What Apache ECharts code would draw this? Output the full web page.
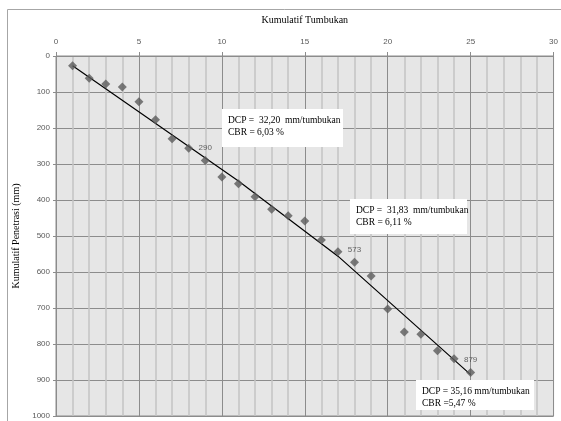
<!DOCTYPE html>
<html>
<head>
<meta charset="utf-8">
<script src="https://cdn.jsdelivr.net/npm/echarts@6/dist/echarts.min.js"></script>
<style>
  html, body { margin: 0; padding: 0; background: #ffffff; }
  #chart { width: 561px; height: 421px; }
</style>
</head>
<body>
<div id="chart"></div>
<script>
// DCP test: cumulative penetration against cumulative blows
const blows = [1, 2, 3, 4, 5, 6, 7, 8, 9, 10, 11, 12, 13, 14, 15, 16, 17, 18, 19, 20, 21, 22, 23, 24, 25];
const penetration = [27, 62, 78, 86, 127, 177, 230, 256, 290, 336, 355, 391, 426, 444, 458, 511, 544, 573, 611, 703, 767, 773, 819, 841, 879];
// blows whose penetration is written next to the marker
const labelledBlows = [9, 18, 25];
// fitted DCP line (three segments)
const trendBlows = [1, 11, 17, 25];
const trendPenetration = [27, 347, 556, 885];
// result boxes
const dcpText = ['DCP =  32,20  mm/tumbukan', 'DCP =  31,83  mm/tumbukan', 'DCP = 35,16 mm/tumbukan'];
const cbrText = ['CBR = 6,03 %', 'CBR = 6,11 %', 'CBR =5,47 %'];
const boxPos = [[222, 109, 121, 38], [350, 199, 117, 35], [416, 380, 118, 30]];

const serif = '"Liberation Serif", "Times New Roman", serif';
const sans = '"Liberation Sans", Arial, sans-serif';

const chart = echarts.init(document.getElementById('chart'), null, { renderer: 'canvas' });

const scatterData = blows.map((b, i) => {
  const item = { value: [b, penetration[i]] };
  if (labelledBlows.indexOf(b) >= 0) {
    item.label = { show: true };
  }
  return item;
});

const boxes = [];
dcpText.forEach((t, i) => {
  const p = boxPos[i];
  boxes.push({
    type: 'rect', z: 100, silent: true,
    shape: { x: p[0], y: p[1], width: p[2], height: p[3] },
    style: { fill: '#ffffff' }
  });
  boxes.push({
    type: 'text', z: 101, silent: true,
    x: p[0] + 6, y: p[1] + 5,
    style: { text: t + '\n' + cbrText[i], font: '9.5px ' + serif, fill: '#000000', lineHeight: 12 }
  });
});

chart.setOption({
  animation: false,
  backgroundColor: '#ffffff',
  grid: {
    left: 56, right: 5, top: 56, bottom: 5,
    show: true, backgroundColor: '#e6e6e6', borderColor: '#8c8c8c', borderWidth: 1
  },
  graphic: [
    {
      type: 'rect', z: -10, silent: true,
      shape: { x: 7.5, y: 9.5, width: 700, height: 600 },
      style: { fill: 'none', stroke: '#a6a6a6', lineWidth: 1 }
    }
  ].concat(boxes),
  xAxis: {
    type: 'value',
    position: 'top',
    min: 0, max: 30, interval: 5,
    name: 'Kumulatif Tumbukan',
    nameLocation: 'middle',
    nameGap: 31,
    nameTextStyle: { fontFamily: serif, fontSize: 10, color: '#000000' },
    axisLine: { show: true, lineStyle: { color: '#8c8c8c' } },
    axisTick: { show: true, length: 4, lineStyle: { color: '#8c8c8c' } },
    axisLabel: { fontFamily: sans, fontSize: 8, color: '#595959', margin: 10 },
    splitLine: { show: true, lineStyle: { color: '#8c8c8c', width: 1 } },
    minorTick: { show: false, splitNumber: 5 },
    minorSplitLine: { show: true, lineStyle: { color: '#c4c4c4', width: 1.5 } }
  },
  yAxis: {
    type: 'value',
    inverse: true,
    min: 0, max: 1000, interval: 100,
    name: 'Kumulatif Penetrasi (mm)',
    nameLocation: 'middle',
    nameGap: 33,
    nameTextStyle: { fontFamily: serif, fontSize: 10, color: '#000000' },
    axisLine: { show: true, lineStyle: { color: '#8c8c8c' } },
    axisTick: { show: true, length: 3, lineStyle: { color: '#8c8c8c' } },
    axisLabel: { fontFamily: sans, fontSize: 8, color: '#595959', margin: 6, formatter: v => String(v) },
    splitLine: { show: true, lineStyle: { color: '#8c8c8c', width: 1 } }
  },
  series: [
    {
      type: 'line',
      data: trendBlows.map((b, i) => [b, trendPenetration[i]]),
      showSymbol: false,
      lineStyle: { color: '#000000', width: 1.2 },
      z: 3,
      silent: true
    },
    {
      type: 'scatter',
      data: scatterData,
      symbol: 'diamond',
      symbolSize: 9,
      itemStyle: { color: '#5b5b5b' },
      z: 4,
      label: {
        show: false,
        position: 'top',
        distance: 4,
        fontFamily: sans,
        fontSize: 8,
        color: '#404040',
        formatter: p => String(p.value[1])
      }
    }
  ]
});
</script>
</body>
</html>
